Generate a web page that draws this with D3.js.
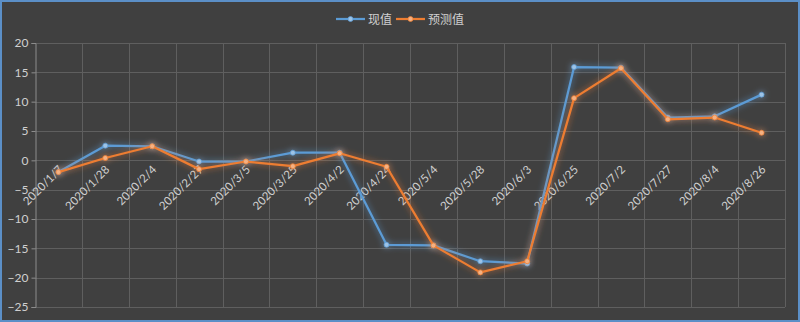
<!DOCTYPE html>
<html>
<head>
<meta charset="utf-8">
<script src="https://cdn.jsdelivr.net/npm/d3@7"></script>
<style>
  html, body { margin: 0; padding: 0; background: #404040; }
  svg { display: block; }
</style>
</head>
<body>
<div id="chart"></div>
<script>
// categories and series
const dates = ['2020/1/7', '2020/1/28', '2020/2/4', '2020/2/27', '2020/3/5', '2020/3/25', '2020/4/2', '2020/4/24',
  '2020/5/4', '2020/5/28', '2020/6/3', '2020/6/25', '2020/7/2', '2020/7/27', '2020/8/4', '2020/8/26'];
const actual = [-2.0, 2.5, 2.4, -0.2, -0.2, 1.3, 1.3, -14.4, -14.5, -17.2, -17.6, 15.9, 15.8, 7.3, 7.5, 11.2];
const predicted = [-2.0, 0.4, 2.4, -1.5, -0.2, -1.0, 1.2, -1.1, -14.5, -19.1, -17.2, 10.6, 15.7, 7.0, 7.3, 4.7];
const yTicks = [-25, -20, -15, -10, -5, 0, 5, 10, 15, 20];
const seriesNames = ['现值', '预测值'];

const width = 800;
const height = 322;
const margin = {top: 43, right: 15, bottom: 15, left: 35};
const colors = ['#5b9bd5', '#ed7d31'];
const markerFill = ['#9dc3e6', '#f4b183'];

const svg = d3.select('#chart')
  .append('svg')
    .attr('width', width)
    .attr('height', height);

// soft glow round the series, like excel's glow effect
const defs = svg.append('defs');
colors.forEach((c, i) => {
  const f = defs.append('filter')
    .attr('id', 'glow' + i)
    .attr('x', '-10%').attr('y', '-10%')
    .attr('width', '120%').attr('height', '120%');
  f.append('feGaussianBlur').attr('in', 'SourceGraphic').attr('stdDeviation', 3).attr('result', 'b');
  f.append('feComponentTransfer').attr('in', 'b').attr('result', 'b2')
    .append('feFuncA').attr('type', 'linear').attr('slope', 0.8);
  const m = f.append('feMerge');
  m.append('feMergeNode').attr('in', 'b2');
  m.append('feMergeNode').attr('in', 'SourceGraphic');
});

// background + frame
svg.append('rect')
  .attr('x', 1).attr('y', 1)
  .attr('width', width - 2).attr('height', height - 2)
  .attr('fill', '#404040')
  .attr('stroke', '#5b8fc7')
  .attr('stroke-width', 2);

const x = d3.scaleBand()
  .domain(dates)
  .range([margin.left, width - margin.right]);

const y = d3.scaleLinear()
  .domain([-25, 20])
  .range([307, margin.top]);

// horizontal gridlines
svg.append('g')
  .selectAll('line')
  .data(yTicks)
  .enter().append('line')
    .attr('x1', margin.left)
    .attr('x2', width - margin.right)
    .attr('y1', d => Math.round(y(d)) + 0.5)
    .attr('y2', d => Math.round(y(d)) + 0.5)
    .attr('stroke', '#5f5f5f')
    .attr('stroke-width', 1);

// vertical gridlines at category boundaries
const bounds = dates.map(d => x(d)).concat([x.range()[1]]);
svg.append('g')
  .selectAll('line')
  .data(bounds.slice(1))
  .enter().append('line')
    .attr('x1', d => Math.round(d) + 0.5)
    .attr('x2', d => Math.round(d) + 0.5)
    .attr('y1', y(20))
    .attr('y2', y(-25))
    .attr('stroke', '#5f5f5f')
    .attr('stroke-width', 1);

// y axis
const yAxis = d3.axisLeft(y)
  .tickValues(yTicks)
  .tickSize(4)
  .tickPadding(3);

const gy = svg.append('g')
  .attr('transform', `translate(${margin.left + 0.5},0)`)
  .call(yAxis);
gy.select('.domain').attr('stroke', '#8c8c8c');
gy.selectAll('.tick line').attr('stroke', '#8c8c8c');
gy.selectAll('.tick text')
  .attr('fill', '#d0d0d0')
  .style('font-family', 'Lato, "Noto Sans", sans-serif')
  .style('font-size', '12px');

// x labels (rotated, near the zero line)
svg.append('g')
  .selectAll('text')
  .data(dates)
  .enter().append('text')
    .attr('transform', d => `translate(${x(d) + x.bandwidth() / 2 + 5},${y(0) + 10}) rotate(-45)`)
    .attr('text-anchor', 'end')
    .attr('fill', '#d0d0d0')
    .style('font-family', 'Lato, "Noto Sans", sans-serif')
    .style('font-size', '11.5px')
    .text(d => d);

// lines
const line = d3.line()
  .x((d, i) => x(dates[i]) + x.bandwidth() / 2)
  .y(d => y(d));

[actual, predicted].forEach((series, k) => {
  const g = svg.append('g').attr('filter', `url(#glow${k})`);
  g.append('path')
    .datum(series)
    .attr('fill', 'none')
    .attr('stroke', colors[k])
    .attr('stroke-width', 2.25)
    .attr('stroke-linejoin', 'round')
    .attr('d', line);
  g.selectAll('circle')
    .data(series)
    .enter().append('circle')
      .attr('cx', (d, i) => x(dates[i]) + x.bandwidth() / 2)
      .attr('cy', d => y(d))
      .attr('r', 2.5)
      .attr('fill', markerFill[k])
      .attr('stroke', colors[k])
      .attr('stroke-width', 0.75);
});

// legend
const legend = svg.append('g').attr('transform', 'translate(336,19)');
const legendX = [0, 60];
seriesNames.forEach((name, k) => {
  const lg = legend.append('g').attr('transform', `translate(${legendX[k]},0)`);
  lg.append('line')
    .attr('x1', 0).attr('x2', 29)
    .attr('y1', 0).attr('y2', 0)
    .attr('stroke', colors[k])
    .attr('stroke-width', 2.25);
  lg.append('circle')
    .attr('cx', 14.5).attr('cy', 0).attr('r', 2.5)
    .attr('fill', markerFill[k])
    .attr('stroke', colors[k])
    .attr('stroke-width', 0.75);
  lg.append('text')
    .attr('x', 32).attr('y', 4.5)
    .attr('fill', '#d0d0d0')
    .style('font-family', '"Noto Sans CJK SC", sans-serif')
    .style('font-size', '12px')
    .text(name);
});
</script>
</body>
</html>
